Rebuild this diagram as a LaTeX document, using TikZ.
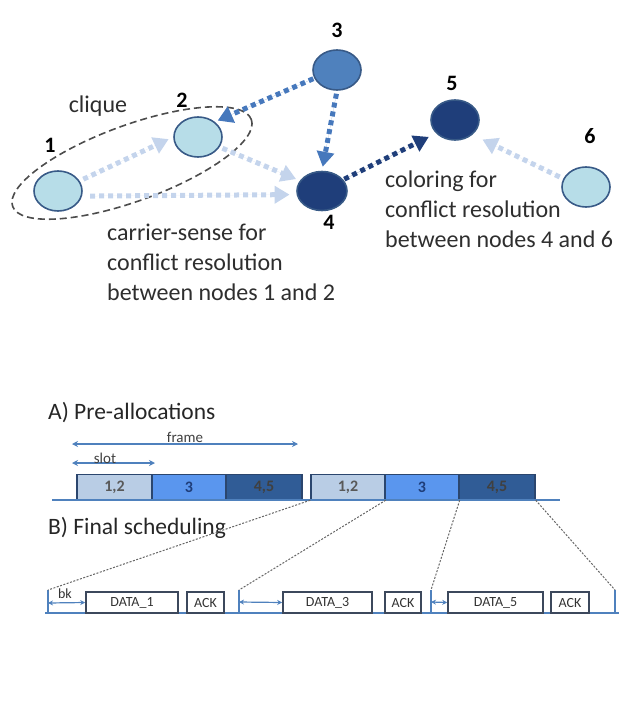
\documentclass[tikz,border=0pt]{standalone}
\usepackage{fontspec}
\setmainfont{Carlito}
\usetikzlibrary{arrows.meta}
\usetikzlibrary{shapes.geometric}
\usetikzlibrary{calc}

\definecolor{nodelight}{RGB}{183,221,232}
\definecolor{nodemid}{RGB}{79,129,189}
\definecolor{nodedark}{RGB}{31,62,122}
\definecolor{nodeline}{RGB}{56,90,135}
\definecolor{arrlight}{RGB}{196,212,236}
\definecolor{arrmid}{RGB}{70,120,188}
\definecolor{slotlight}{RGB}{185,205,229}
\definecolor{slotmid}{RGB}{90,150,238}
\definecolor{slotdark}{RGB}{48,92,150}
\definecolor{slotline}{RGB}{43,70,110}
\definecolor{axisblue}{RGB}{79,129,189}
\definecolor{boxline}{RGB}{60,72,92}

\begin{document}
\begin{tikzpicture}[x=1pt,y=1pt,yscale=-1,xscale=1,
  station/.style={ellipse,draw=nodeline,line width=1.6pt,minimum width=48pt,minimum height=40pt,inner sep=0pt},
  numlabel/.style={font=\fontsize{22}{24}\selectfont\bfseries,inner sep=0pt},
  note/.style={font=\fontsize{24}{30}\selectfont,align=left,anchor=north west,inner sep=0pt,text=black!82},
  dotarrow/.style={line width=5pt,dash pattern=on 5pt off 4pt,-{Triangle[length=15pt,width=17pt]}},
  slotbox/.style={draw=slotline,line width=1.4pt,minimum height=25pt,inner sep=0pt,font=\fontsize{16}{16}\selectfont\bfseries},
  pktbox/.style={draw=boxline,line width=1.6pt,fill=white,minimum height=21pt,inner sep=0pt,font=\fontsize{14}{14}\selectfont,text=black!80},
  spanarrow/.style={draw=axisblue,line width=2pt,{Stealth[length=6pt,width=6pt]}-{Stealth[length=6pt,width=6pt]}},
  gaparrow/.style={draw=axisblue,line width=1.2pt,{Stealth[length=5pt,width=5pt]}-{Stealth[length=5pt,width=5pt]}},
  zoomline/.style={draw=black!60,line width=1pt,dash pattern=on 2pt off 1.5pt}]
\useasboundingbox (0,0) rectangle (640,709);

% stations
\node [station,fill=nodelight] (n1) at (58,191) {};
\node [station,fill=nodelight] (n2) at (198,137) {};
\node [station,fill=nodemid] (n3) at (337,70) {};
\node [station,fill=nodedark,minimum width=50pt,minimum height=39pt] (n4) at (322,191) {};
\node [station,fill=nodedark] (n5) at (455,120) {};
\node [station,fill=nodelight] (n6) at (586,187) {};

% station numbers
\node [numlabel] (l1) at (50,145) {1};
\node [numlabel] (l2) at (182,100) {2};
\node [numlabel] (l3) at (337,30) {3};
\node [numlabel] (l4) at (329,222) {4};
\node [numlabel] (l5) at (452,83) {5};
\node [numlabel] (l6) at (590,136) {6};

% clique
\draw [draw=black!70,line width=1.6pt,dash pattern=on 7pt off 4pt,rotate around={-20:(132,163)}] (132,163) ellipse (127 and 38);
\node [font=\fontsize{24}{30}\selectfont,inner sep=0pt,text=black!82] (clq) at (98,106) {clique};

% links
\draw [dotarrow,draw=arrlight,fill=arrlight,shorten <=4pt,shorten >=5pt] (n1.25) -- (n2.west);
\draw [dotarrow,draw=arrlight,fill=arrlight,shorten <=8pt,shorten >=7pt] (n1.-12) -- (n4.188);
\draw [dotarrow,draw=arrlight,fill=arrlight,shorten <=3pt,shorten >=4pt] (n2.-25) -- (n4.155);
\draw [dotarrow,draw=arrmid,fill=arrmid,shorten <=1pt,shorten >=3pt] (n3.200) -- (n2.42);
\draw [dotarrow,draw=arrmid,fill=arrmid,shorten <=3pt,shorten >=4pt] (n3.south) -- (n4.north);
\draw [dotarrow,draw=nodedark,fill=nodedark,shorten <=1pt,shorten >=8pt] (n4.28) -- (n5.215);
\draw [dotarrow,draw=arrlight,fill=arrlight,shorten <=4pt,shorten >=11pt] (n6.160) -- (n5.-40);

% notes
\node [note] (cs) at (107,224) {carrier-sense for\\conflict resolution\\between nodes 1 and 2};
\node [note] (col) at (385,171) {coloring for\\conflict resolution\\between nodes 4 and 6};

% A) pre-allocations
\node [font=\fontsize{23.5}{26}\selectfont,anchor=west,inner sep=0pt,text=black!85] (ta) at (48,413) {A) Pre-allocations};
\coordinate (fl) at (72,444);
\coordinate (fr) at (298,444);
\draw [spanarrow] (fl) -- (fr);
\node [font=\fontsize{15}{15}\selectfont,inner sep=0pt,text=black!75] (fram) at (185,437) {frame};
\coordinate (sl) at (72,463);
\coordinate (sr) at (155,463);
\draw [spanarrow] (sl) -- (sr);
\node [font=\fontsize{15}{15}\selectfont,inner sep=0pt,text=black!75] (slt) at (105,458) {slot};

\node [slotbox,fill=slotlight,minimum width=75pt,text=black!65] (b12a) at (114.5,487) {1,2};
\node [slotbox,fill=slotmid,minimum width=74pt,text=nodedark] (b3a) at (189,487) {3};
\node [slotbox,fill=slotdark,minimum width=76pt,text=black!75] (b45a) at (264,487) {4,5};
\node [slotbox,fill=slotlight,minimum width=74pt,text=black!65] (b12b) at (348,487) {1,2};
\node [slotbox,fill=slotmid,minimum width=74pt,text=nodedark] (b3b) at (422,487) {3};
\node [slotbox,fill=slotdark,minimum width=76pt,text=black!75] (b45b) at (497,487) {4,5};
\draw [draw=axisblue,line width=1.5pt] (52,500) -- (560,500);

% B) final scheduling
\node [font=\fontsize{23.5}{26}\selectfont,anchor=west,inner sep=0pt,text=black!85] (tb) at (48,528) {B) Final scheduling};

\draw [draw=axisblue,line width=1.5pt] (45,613) -- (619,613);
\foreach \k/\xx in {1/48,2/239,3/431,4/615}
  \draw [draw=axisblue,line width=1.8pt] (\xx,613) -- (\xx,590) coordinate (t\k);

\node [pktbox,minimum width=92pt] (d1) at (132,602.5) {DATA\_1};
\node [pktbox,minimum width=37pt] (a1) at (205.5,602.5) {ACK};
\node [pktbox,minimum width=89pt] (d3) at (327.5,602.5) {DATA\_3};
\node [pktbox,minimum width=36pt] (a3) at (403,602.5) {ACK};
\node [pktbox,minimum width=95pt] (d5) at (495.5,602.5) {DATA\_5};
\node [pktbox,minimum width=38pt] (a5) at (570,602.5) {ACK};

\draw [gaparrow] (48,603) -- (d1.west);
\node [font=\fontsize{14}{14}\selectfont,inner sep=0pt,text=black!80] (bk) at (65,594) {bk};
\draw [gaparrow] (239,602) -- (d3.west);
\draw [gaparrow] (431,602) -- (d5.west);

% zoom lines
\draw [zoomline] (b12b.south west) -- (t1);
\draw [zoomline] (b12b.south east) -- (t2);
\draw [zoomline] (b3b.south east) -- (t3);
\draw [zoomline] (b45b.south east) -- (t4);

\end{tikzpicture}
\end{document}
